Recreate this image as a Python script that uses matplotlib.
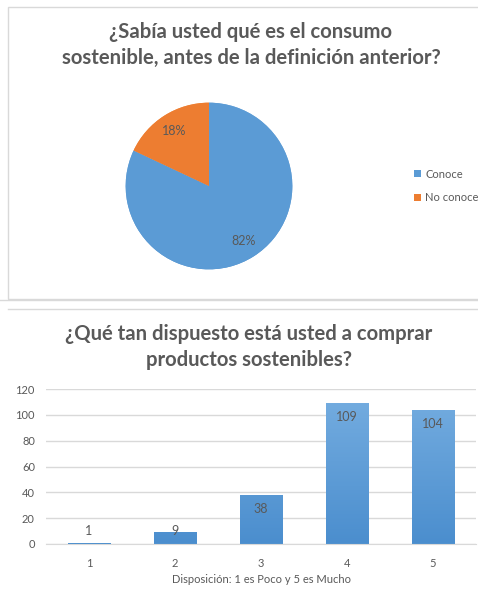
import matplotlib.pyplot as plt
import matplotlib.patches as mpatches
import numpy as np
from matplotlib.colors import LinearSegmentedColormap

plt.rcParams['font.family'] = ['Lato', 'DejaVu Sans']

# data
pie_labels = ['Conoce', 'No conoce']
pie_values = [82, 18]
bar_cats = ['1', '2', '3', '4', '5']
bar_values = [1, 9, 38, 109, 104]

TEXT = '#595959'
BLUE = '#5b9bd5'
ORANGE = '#ed7d31'
GRID = '#d9d9d9'

fig = plt.figure(figsize=(4.78, 5.97), dpi=100)
W, H = 478, 597


def fx(px):
    return px / W


def fy(py):
    return 1 - py / H


# panel frames
fig.patches.append(mpatches.Rectangle((fx(8), fy(299)), fx(478 - 8 + 5), fy(7) - fy(299),
                                      transform=fig.transFigure, fill=False,
                                      edgecolor=GRID, lw=1))
fig.add_artist(plt.Line2D([0, 1], [fy(300), fy(300)], color=GRID, lw=1))
fig.add_artist(plt.Line2D([fx(8), 1], [fy(309), fy(309)], color=GRID, lw=1))

# ---------- pie ----------
fig.text(fx(251), fy(45), '¿Sabía usted qué es el consumo\nsostenible, antes de la definición anterior?',
         ha='center', va='center', fontsize=14.6, fontweight='bold', color=TEXT,
         linespacing=1.38)

ax1 = fig.add_axes([fx(124), fy(271), fx(170), fy(101) - fy(271)])
wedges, _ = ax1.pie(pie_values, colors=[BLUE, ORANGE], startangle=90, counterclock=False,
                    wedgeprops=dict(linewidth=0))
ax1.set_aspect('equal')
grads = [('#79afe0', '#4f90cf'), ('#f4964f', '#e9721f')]
for w, (c1, c2) in zip(wedges, grads):
    cmap = LinearSegmentedColormap.from_list('g', [c1, c2])
    im = ax1.imshow(np.linspace(0, 1, 100).reshape(-1, 1), cmap=cmap, aspect='auto',
                    extent=[-1.05, 1.05, -1.05, 1.05], origin='upper', zorder=0.5)
    im.set_clip_path(w)
ax1.set_xlim(-1.02, 1.02)
ax1.set_ylim(-1.02, 1.02)
ax1.axis('off')

# percentage labels
ang = 90
for w, v in zip(wedges, pie_values):
    mid = np.deg2rad(ang - v * 3.6 / 2)
    ang -= v * 3.6
    ax1.text(0.78 * np.cos(mid), 0.78 * np.sin(mid), f'{v}%', ha='center', va='center',
             fontsize=9, color=TEXT)

leg = fig.legend(wedges, pie_labels, loc='center left', bbox_to_anchor=(fx(404), fy(186)),
                 frameon=False, fontsize=8, handlelength=0.6, handleheight=0.6,
                 handletextpad=0.4, labelspacing=1.1, labelcolor=TEXT)

# ---------- bar ----------
fig.text(fx(249), fy(347), '¿Qué tan dispuesto está usted a comprar\nproductos sostenibles?',
         ha='center', va='center', fontsize=14.6, fontweight='bold', color=TEXT,
         linespacing=1.38)

ax2 = fig.add_axes([fx(46), fy(544), fx(430), fy(389) - fy(544)])
x = np.arange(len(bar_cats))
bars = ax2.bar(x, bar_values, width=0.5, color=BLUE, zorder=2)
bcmap = LinearSegmentedColormap.from_list('b', ['#72abdf', '#4b8ece'])
for b in bars:
    im = ax2.imshow(np.linspace(0, 1, 100).reshape(-1, 1), cmap=bcmap, aspect='auto',
                    extent=[b.get_x(), b.get_x() + b.get_width(), 0, 109],
                    origin='upper', zorder=2.5)
    im.set_clip_path(b)
for xi, v in zip(x, bar_values):
    ax2.text(xi, max(v - 11, 10), str(v), ha='center', va='center', fontsize=9,
             color=TEXT, zorder=3)

ax2.set_xlim(-0.5, 4.5)
ax2.set_ylim(0, 120)
ax2.set_yticks(range(0, 121, 20))
ax2.set_xticks(x)
ax2.set_xticklabels(bar_cats)
ax2.set_aspect('auto')
ax2.grid(axis='y', color=GRID, lw=1, zorder=0)
ax2.set_axisbelow(True)
for s in ['top', 'right', 'left']:
    ax2.spines[s].set_visible(False)
ax2.spines['bottom'].set_color(GRID)
ax2.tick_params(length=0, labelsize=8, colors=TEXT, pad=8)
ax2.tick_params(axis='x', pad=10)
ax2.set_xlabel('Disposición: 1 es Poco y 5 es Mucho', fontsize=8, color=TEXT, labelpad=4)

fig.savefig('out.png', dpi=100, facecolor='white')
